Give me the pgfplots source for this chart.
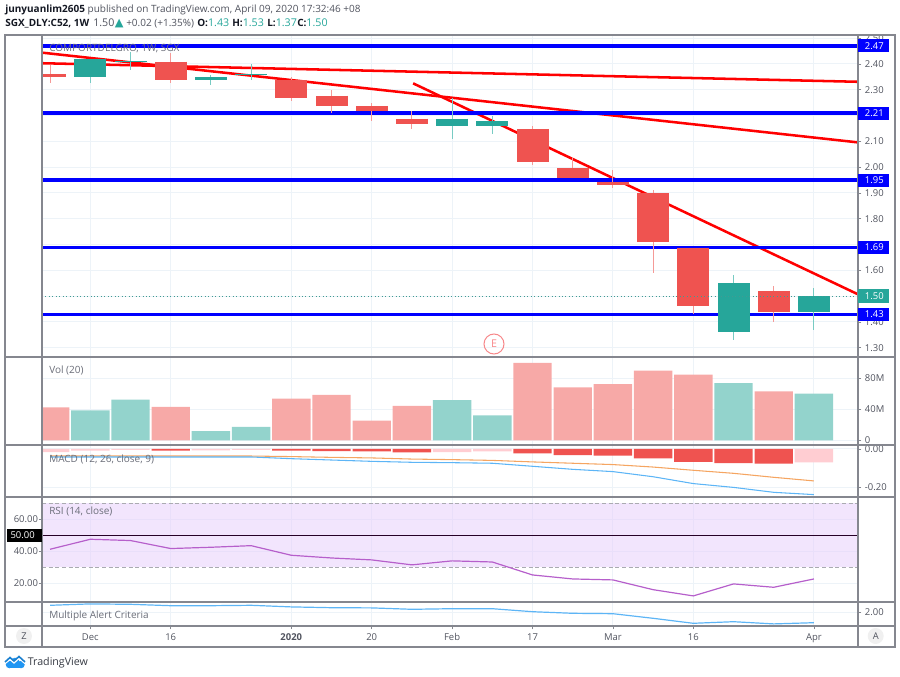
\documentclass[border=0pt]{standalone}
\usepackage{pgfplots}
\pgfplotsset{compat=1.18}
\usepackage{pgfplotstable}
\usepackage{fontspec}
\setmainfont{Open Sans}
\newfontfamily\symf{DejaVu Sans}
\definecolor{cred}{HTML}{EF5350}
\definecolor{cgrn}{HTML}{26A69A}
\definecolor{wred}{HTML}{F59A97}
\definecolor{wgrn}{HTML}{78CBC3}
\definecolor{vred}{HTML}{F7A9A7}
\definecolor{vgrn}{HTML}{93D3CC}
\definecolor{hred}{HTML}{EF5350}
\definecolor{hpale}{HTML}{FFCDD2}
\definecolor{gridc}{HTML}{EDF3F8}
\definecolor{linec}{HTML}{85878F}
\definecolor{txtc}{HTML}{6A6D78}
\definecolor{lblc}{HTML}{50535E}
\definecolor{headc}{HTML}{131722}
\definecolor{tvblue}{HTML}{2196F3}
\definecolor{bandc}{HTML}{E6CCFC}
\definecolor{rsic}{HTML}{B65FCB}
\definecolor{macdc}{HTML}{5DB5F6}
\definecolor{sigc}{HTML}{F5A561}
\definecolor{pinkc}{HTML}{F7888A}

\newcommand{\tlfont}{\fontsize{7.1pt}{9pt}\selectfont}
\newcommand{\ttfont}{\fontsize{7.5pt}{9pt}\selectfont}

\pgfplotstableread{
x hi lo top bot
0 2.396 2.328 2.360 2.350
3 2.443 2.328 2.409 2.338
6 2.348 2.258 2.338 2.268
7 2.299 2.209 2.277 2.238
8 2.248 2.178 2.238 2.219
9 2.219 2.148 2.188 2.169
12 2.158 2.008 2.148 2.019
13 2.038 1.957 1.998 1.957
14 1.989 1.918 1.944 1.930
15 1.911 1.591 1.899 1.710
16 1.685 1.430 1.685 1.460
18 1.539 1.400 1.520 1.437
}\redc
\pgfplotstableread{
x hi lo top bot
1 2.418 2.328 2.418 2.348
2 2.448 2.377 2.410 2.406
4 2.357 2.319 2.348 2.338
5 2.399 2.338 2.362 2.356
10 2.269 2.109 2.188 2.158
11 2.198 2.127 2.178 2.158
17 1.581 1.331 1.550 1.361
19 1.530 1.370 1.500 1.437
}\grnc
\pgfplotstableread{
x v
0 42.6
3 43.0
6 53.7
7 58.5
8 25.3
9 44.3
12 100.0
13 68.4
14 72.6
15 89.8
16 84.6
18 63.2
}\volr
\pgfplotstableread{
x v
1 38.7
2 52.4
4 12.0
5 17.2
10 52.0
11 32.2
17 73.9
19 60.2
}\volg
\pgfplotstableread{
x v
3 -0.009
6 -0.009
7 -0.011
8 -0.012
9 -0.018
12 -0.023
13 -0.032
14 -0.035
15 -0.049
16 -0.068
17 -0.074
18 -0.077
}\hists
\pgfplotstableread{
x v
0 -0.016
1 -0.009
2 -0.005
4 -0.007
5 -0.004
10 -0.016
11 -0.013
19 -0.070
}\histp
\pgfplotstableread{
x macd sig rsi alert
0 -0.042 -0.037 41.25 2.35
1 -0.042 -0.037 47.5 2.42
2 -0.042 -0.037 46.7 2.40
3 -0.042 -0.037 41.7 2.33
4 -0.042 -0.037 42.5 2.33
5 -0.042 -0.037 43.5 2.35
6 -0.051 -0.040 37.5 2.27
7 -0.058 -0.044 35.8 2.23
8 -0.065 -0.047 34.6 2.22
9 -0.070 -0.053 31.5 2.15
10 -0.072 -0.056 34.0 2.18
11 -0.075 -0.060 33.3 2.18
12 -0.091 -0.068 25.2 2.03
13 -0.107 -0.075 22.7 1.95
14 -0.119 -0.082 22.1 1.93
15 -0.146 -0.095 16.0 1.70
16 -0.182 -0.112 12.1 1.45
17 -0.202 -0.128 19.6 1.53
18 -0.228 -0.149 17.5 1.42
19 -0.240 -0.168 22.7 1.48
}\lines

\pgfplotsset{
  pane/.style={
    scale only axis, width=612pt,
    xmin=-0.2015, xmax=20.097,
    xtick={1,3,6,8,10,12,14,16,19},
    xticklabels={},
    xtick style={draw=none},
    xmajorgrids, ymajorgrids,
    grid style={draw=gridc,line width=0.75pt},
    axis line style={draw=none},
    tick align=outside,
    major tick length=2.6pt,
    ytick style={draw=linec,line width=0.6pt},
    ytick pos=right,
    yticklabel pos=right,
    y tick label style={font=\tlfont,text=lblc,inner sep=0pt,xshift=2.4pt},
    x tick label style={font=\tlfont,text=lblc},
    clip=true,
  },
}
\begin{document}
\begin{tikzpicture}
\begin{scope}[x=0.75pt,y=-0.75pt]
\path[use as bounding box] (0,0) rectangle (900,677);
\node[anchor=base west,inner sep=0pt,text=lblc,font=\ttfont] at (5,13) {\textcolor{headc}{\textbf{junyuanlim2605}} published on TradingView.com, April 09, 2020 17:32:46 +08};
\node[anchor=base west,inner sep=0pt,text=headc,font=\ttfont] at (5,27) {\textbf{SGX\_DLY:C52, 1W}};
\node[anchor=base west,inner sep=0pt,text=lblc,font=\fontsize{8pt}{10pt}\selectfont] at (93,27) {1.50};
\node[anchor=base west,inner sep=0pt,text=cgrn,font=\symf\fontsize{8.5pt}{10pt}\selectfont] at (114.5,27) {▲};
\node[anchor=base west,inner sep=0pt,text=lblc,font=\fontsize{7.5pt}{10pt}\selectfont] at (126,27) {+0.02 (+1.35\%)};
\foreach \xx/\aa/\bb in {197/O/1.43,232/H/1.53,267/L/1.37,297/C/1.50}{
  \node[anchor=base west,inner sep=0pt,text=headc,font=\ttfont] at (\xx,27) {\textbf{\aa:}\textcolor{cgrn}{\fontsize{8pt}{10pt}\selectfont\bb}};
}
\end{scope}

% ---- price pane
\begin{axis}[pane, at={(31.5pt,-267.75pt)}, anchor=south west, height=241.5pt,
  ymin=1.264, ymax=2.5124,
  ytick={1.3,1.4,1.5,1.6,1.7,1.8,1.9,2.0,2.1,2.2,2.3,2.4,2.5},
  yticklabels={1.30,1.40,,1.60,,1.80,1.90,2.00,2.10,,2.30,2.40,2.50},
  ]
  \addplot[red,line width=1.9pt] coordinates {(-0.2015,2.403)(20.097,2.331)};
  \addplot[red,line width=1.9pt] coordinates {(-0.2015,2.444)(20.097,2.096)};
  \addplot[red,line width=1.9pt] coordinates {(9.03,2.325)(20.097,1.507)};
  \addplot[blue,line width=2.4pt] coordinates {(-0.2015,2.47)(20.097,2.47)};
  \addplot[blue,line width=2.4pt] coordinates {(-0.2015,2.21)(20.097,2.21)};
  \addplot[blue,line width=2.4pt] coordinates {(-0.2015,1.95)(20.097,1.95)};
  \addplot[blue,line width=2.4pt] coordinates {(-0.2015,1.69)(20.097,1.69)};
  \addplot[blue,line width=2.4pt] coordinates {(-0.2015,1.43)(20.097,1.43)};
  % wicks
  \addplot[draw=none,mark=none,error bars/.cd,y dir=minus,y explicit,error mark=none,
    error bar style={draw=wred,line width=0.8pt}]
    table[x=x,y=hi,y error minus expr=\thisrow{hi}-\thisrow{lo}] {\redc};
  \addplot[draw=none,mark=none,error bars/.cd,y dir=minus,y explicit,error mark=none,
    error bar style={draw=wgrn,line width=0.8pt}]
    table[x=x,y=hi,y error minus expr=\thisrow{hi}-\thisrow{lo}] {\grnc};
  % bodies
  \addplot[draw=none,mark=none,error bars/.cd,y dir=minus,y explicit,error mark=none,
    error bar style={draw=cred,line width=24pt}]
    table[x=x,y=top,y error minus expr=\thisrow{top}-\thisrow{bot}] {\redc};
  \addplot[draw=none,mark=none,error bars/.cd,y dir=minus,y explicit,error mark=none,
    error bar style={draw=cgrn,line width=24pt}]
    table[x=x,y=top,y error minus expr=\thisrow{top}-\thisrow{bot}] {\grnc};
  \addplot[cgrn!70!gray,line width=0.6pt,dotted] coordinates {(-0.2015,1.50)(20.097,1.50)};
\end{axis}

% ---- volume pane
\begin{axis}[pane, at={(31.5pt,-333.75pt)}, anchor=south west, height=66pt,
  ymin=-6.06, ymax=107.5,
  ytick={0,40,80}, yticklabels={0,40M,80M},
  ]
  \addplot[ybar,bar width=28.8pt,bar shift=0pt,fill=vred,draw=none] table[x=x,y=v] {\volr};
  \addplot[ybar,bar width=28.8pt,bar shift=0pt,fill=vgrn,draw=none] table[x=x,y=v] {\volg};
\end{axis}

% ---- MACD pane
\begin{axis}[pane, at={(31.5pt,-372.75pt)}, anchor=south west, height=39pt,
  ymin=-0.2526, ymax=0.021,
  ytick={0,-0.2}, yticklabels={0.00,-0.20},
  ]
  \addplot[ybar,bar width=28.8pt,bar shift=0pt,fill=hred,draw=none] table[x=x,y=v] {\hists};
  \addplot[ybar,bar width=28.8pt,bar shift=0pt,fill=hpale,draw=none] table[x=x,y=v] {\histp};
  \addplot[sigc,line width=0.8pt] table[x=x,y=sig] {\lines};
  \addplot[macdc,line width=0.8pt] table[x=x,y=macd] {\lines};
\end{axis}

% ---- RSI pane
\begin{axis}[pane, at={(31.5pt,-451.5pt)}, anchor=south west, height=78.75pt,
  ymin=8.3, ymax=73.9,
  ytick={20,40,60}, yticklabels={20.00,40.00,60.00},
  ytick pos=left, yticklabel pos=left,
  y tick label style={font=\tlfont,text=lblc,inner sep=0pt,xshift=-2.6pt},
  ]
  \addplot[fill=bandc,fill opacity=0.5,draw=none] coordinates {(-0.2015,30)(-0.2015,70)(20.097,70)(20.097,30)} -- cycle;
  \addplot[linec!70,line width=0.55pt,dash pattern=on 3pt off 2pt] coordinates {(-0.2015,70)(20.097,70)};
  \addplot[linec!70,line width=0.55pt,dash pattern=on 3pt off 2pt] coordinates {(-0.2015,30)(20.097,30)};
  \addplot[black!70!violet,line width=0.7pt] coordinates {(-0.2015,50)(20.097,50)};
  \addplot[rsic,line width=0.9pt] table[x=x,y=rsi] {\lines};
\end{axis}

% ---- Alert pane with time scale
\begin{axis}[pane, at={(31.5pt,-469.5pt)}, anchor=south west, height=18pt,
  ymin=1.315, ymax=2.515,
  ytick={2}, yticklabels={2.00},
  xticklabels={Dec,16,\textbf{2020},20,Feb,17,Mar,16,Apr},
  xtick pos=bottom,
  xtick style={draw=linec,line width=0.6pt},
  x tick label style={font=\tlfont,text=lblc,anchor=base,yshift=-8.5pt},
  ]
  \addplot[macdc,line width=0.9pt] table[x=x,y=alert] {\lines};
\end{axis}

\begin{scope}[x=0.75pt,y=-0.75pt]
% pane titles
\foreach \yy/\tt in {48.7/{COMPORTDELGRO, 1W, SGX},370.5/{Vol (20)},459.5/{MACD (12, 26, close, 9)},511.5/{RSI (14, close)},615.5/{Multiple Alert Criteria}}{
  \node[anchor=west,inner sep=0pt,text=txtc,font=\ttfont] at (49,\yy) {\tt};
}
% cover for the 2.50 label above the frame
\fill[white] (858.5,28) rectangle (894,34.5);
% frame & separators
\draw[linec,line width=0.9pt] (5,35) rectangle (895,647);
\draw[linec,line width=0.9pt] (42,35) -- (42,647);
\draw[linec,line width=0.9pt] (858,35) -- (858,647);
\foreach \yy in {357,445,497,602,626}{\draw[linec,line width=0.9pt] (5,\yy) -- (895,\yy);}
% price labels
\foreach \yy/\lab in {45.7/2.47,113.3/2.21,180.3/1.95,247.3/1.69,314.5/1.43}{
  \fill[blue] (858,\yy-6.7) rectangle (888.7,\yy+6.7);
  \node[anchor=west,inner sep=0pt,text=white,font=\tlfont] at (864.7,\yy) {\lab};
}
\fill[cgrn] (858,289.5) rectangle (888.7,302.7);
\node[anchor=west,inner sep=0pt,text=white,font=\tlfont] at (864.7,296) {1.50};
\fill[black] (7,529) rectangle (42,542);
\node[anchor=east,inner sep=0pt,text=white,font=\tlfont] at (35,535.5) {50.00};
% earnings marker
\node[circle,draw=pinkc,line width=0.75pt,minimum size=15pt,inner sep=0pt,text=pinkc,font=\fontsize{8pt}{9pt}\selectfont] at (494,344) {E};
% Z / A
\fill[gray!12] (24,636) circle (8);
\node[text=lblc,font=\fontsize{7pt}{8pt}\selectfont,inner sep=0pt] at (24,636) {Z};
\fill[gray!12] (875.7,636) circle (8);
\node[text=lblc,font=\fontsize{7pt}{8pt}\selectfont,inner sep=0pt] at (875.7,636) {A};
% logo
\fill[tvblue] (9.5,664.5) circle (3.8);
\fill[tvblue] (15,662.5) circle (4.8);
\fill[tvblue] (21,664.5) circle (3.8);
\fill[tvblue] (9.5,662) rectangle (21,668.3);
\draw[white,line width=1.5pt] (4,664) -- (10,659) -- (14,662.5) -- (19,658) -- (26,664);
\draw[tvblue!85!black,line width=1.2pt] (5,662) -- (10,657.5) -- (14,661) -- (19,656.5) -- (25,662);
\node[anchor=west,inner sep=0pt,text=headc!85,font=\fontsize{8pt}{10pt}\selectfont] at (27.5,662.3) {TradingView};
\end{scope}
\end{tikzpicture}
\end{document}
